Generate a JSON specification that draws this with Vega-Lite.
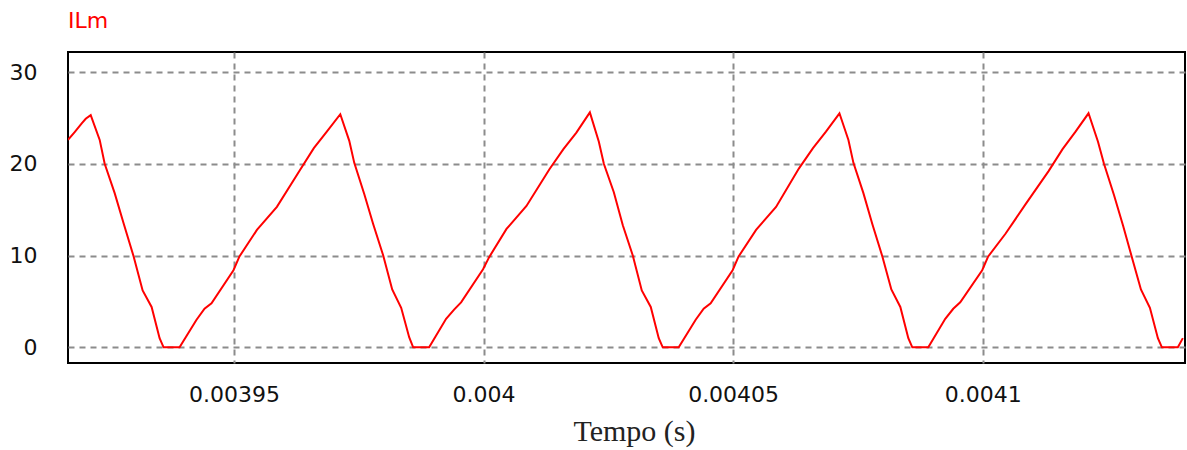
{
  "$schema": "https://vega.github.io/schema/vega-lite/v6.json",
  "width": 1117,
  "height": 311,
  "autosize": {"type": "none"},
  "padding": {"left": 68, "top": 52, "right": 2, "bottom": 87},
  "background": "white",
  "title": {"text": "ILm", "anchor": "start", "frame": "group", "font": "DejaVu Sans", "fontSize": 22, "fontWeight": "normal", "color": "#ff0000", "baseline": "alphabetic", "offset": 2},
  "config": {
    "view": {"stroke": "black", "strokeWidth": 2},
    "axis": {"labelFont": "DejaVu Sans", "labelFontSize": 22, "labelColor": "#111111", "domain": false, "ticks": false, "tickSize": 0, "grid": true, "gridColor": "#8c8c8c", "gridWidth": 2, "gridDash": [6, 5], "gridOpacity": 1}
  },
  "data": {"values": [
    {"t": 0.00391675, "i": 22.6},
    {"t": 0.0039180, "i": 23.4},
    {"t": 0.0039195, "i": 24.4},
    {"t": 0.0039203, "i": 24.9},
    {"t": 0.0039213, "i": 25.3},
    {"t": 0.0039231, "i": 22.6},
    {"t": 0.0039241, "i": 20.0},
    {"t": 0.0039261, "i": 16.8},
    {"t": 0.0039279, "i": 13.5},
    {"t": 0.0039299, "i": 9.9},
    {"t": 0.0039317, "i": 6.2},
    {"t": 0.0039335, "i": 4.4},
    {"t": 0.0039351, "i": 1.0},
    {"t": 0.0039359, "i": 0},
    {"t": 0.0039391, "i": 0},
    {"t": 0.0039425, "i": 3.0},
    {"t": 0.0039441, "i": 4.2},
    {"t": 0.0039455, "i": 4.8},
    {"t": 0.0039499, "i": 8.4},
    {"t": 0.0039511, "i": 9.9},
    {"t": 0.0039546, "i": 12.8},
    {"t": 0.0039586, "i": 15.3},
    {"t": 0.0039632, "i": 19.3},
    {"t": 0.0039660, "i": 21.7},
    {"t": 0.0039686, "i": 23.5},
    {"t": 0.0039713, "i": 25.4},
    {"t": 0.0039731, "i": 22.5},
    {"t": 0.0039741, "i": 20.1},
    {"t": 0.0039761, "i": 16.7},
    {"t": 0.0039779, "i": 13.4},
    {"t": 0.0039799, "i": 10.0},
    {"t": 0.0039817, "i": 6.3},
    {"t": 0.0039835, "i": 4.3},
    {"t": 0.0039851, "i": 1.1},
    {"t": 0.0039859, "i": 0},
    {"t": 0.0039891, "i": 0},
    {"t": 0.0039925, "i": 3.1},
    {"t": 0.0039941, "i": 4.1},
    {"t": 0.0039955, "i": 4.9},
    {"t": 0.0039999, "i": 8.5},
    {"t": 0.0040011, "i": 9.8},
    {"t": 0.0040046, "i": 12.9},
    {"t": 0.0040086, "i": 15.4},
    {"t": 0.0040132, "i": 19.4},
    {"t": 0.0040160, "i": 21.6},
    {"t": 0.0040186, "i": 23.4},
    {"t": 0.0040213, "i": 25.6},
    {"t": 0.0040231, "i": 22.4},
    {"t": 0.0040241, "i": 20.0},
    {"t": 0.0040261, "i": 16.9},
    {"t": 0.0040279, "i": 13.3},
    {"t": 0.0040299, "i": 10.0},
    {"t": 0.0040317, "i": 6.2},
    {"t": 0.0040335, "i": 4.4},
    {"t": 0.0040351, "i": 1.0},
    {"t": 0.0040359, "i": 0},
    {"t": 0.0040391, "i": 0},
    {"t": 0.0040425, "i": 3.0},
    {"t": 0.0040441, "i": 4.2},
    {"t": 0.0040455, "i": 4.8},
    {"t": 0.0040499, "i": 8.4},
    {"t": 0.0040511, "i": 9.9},
    {"t": 0.0040546, "i": 12.8},
    {"t": 0.0040586, "i": 15.3},
    {"t": 0.0040632, "i": 19.5},
    {"t": 0.0040660, "i": 21.7},
    {"t": 0.0040686, "i": 23.5},
    {"t": 0.0040713, "i": 25.5},
    {"t": 0.0040731, "i": 22.6},
    {"t": 0.0040741, "i": 20.1},
    {"t": 0.0040761, "i": 16.8},
    {"t": 0.0040779, "i": 13.4},
    {"t": 0.0040799, "i": 9.9},
    {"t": 0.0040817, "i": 6.3},
    {"t": 0.0040835, "i": 4.4},
    {"t": 0.0040851, "i": 1.0},
    {"t": 0.0040859, "i": 0},
    {"t": 0.0040891, "i": 0},
    {"t": 0.0040925, "i": 3.1},
    {"t": 0.0040941, "i": 4.2},
    {"t": 0.0040955, "i": 4.9},
    {"t": 0.0040999, "i": 8.4},
    {"t": 0.0041011, "i": 9.9},
    {"t": 0.0041046, "i": 12.4},
    {"t": 0.0041086, "i": 15.6},
    {"t": 0.0041132, "i": 19.2},
    {"t": 0.0041160, "i": 21.6},
    {"t": 0.0041186, "i": 23.5},
    {"t": 0.0041212, "i": 25.5},
    {"t": 0.0041231, "i": 22.4},
    {"t": 0.0041243, "i": 20.0},
    {"t": 0.0041263, "i": 16.6},
    {"t": 0.0041281, "i": 13.3},
    {"t": 0.0041300, "i": 9.6},
    {"t": 0.0041317, "i": 6.3},
    {"t": 0.0041335, "i": 4.3},
    {"t": 0.0041351, "i": 1.0},
    {"t": 0.0041359, "i": 0},
    {"t": 0.0041391, "i": 0},
    {"t": 0.0041401, "i": 1.0}
  ]},
  "mark": {"type": "line", "color": "#ff0000", "strokeWidth": 2, "clip": true},
  "encoding": {
    "x": {"field": "t", "type": "quantitative", "scale": {"domain": [0.00391675, 0.00414053], "nice": false, "zero": false},
      "axis": {"values": [0.00395, 0.004, 0.00405, 0.0041], "format": "~g", "labelPadding": 38, "labelBaseline": "alphabetic", "labelFlush": false, "labelOverlap": false,
        "title": "Tempo (s)", "titleFont": "Liberation Serif", "titleFontSize": 30, "titleFontWeight": "normal", "titleColor": "#222222", "titleBaseline": "alphabetic", "titleY": 77, "titleX": 566, "titleAnchor": "start", "titleAlign": "center"}},
    "y": {"field": "i", "type": "quantitative", "scale": {"domain": [-1.71, 32.18], "nice": false, "zero": false},
      "axis": {"values": [0, 10, 20, 30], "labelPadding": 31, "labelFlush": false, "title": null}}
  }
}
